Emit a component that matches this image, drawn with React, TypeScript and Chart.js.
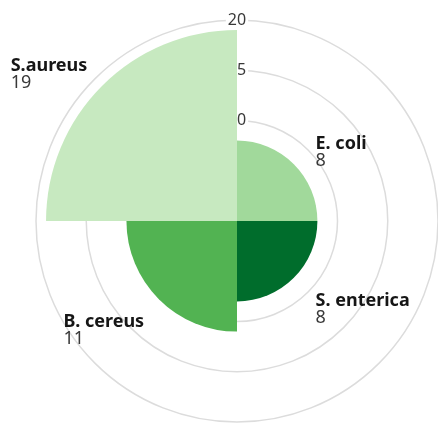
import React, { useEffect, useRef } from "react";
import { Chart, registerables } from "chart.js";

Chart.register(...registerables);

const categories = ["E. coli", "S. enterica", "B. cereus", "S.aureus"];
const values = [8, 8, 11, 19];
const colors = ["#a1d99b", "#006d2c", "#52b352", "#c7e9c0"];
const tickMin = 0;
const tickMax = 20;
const tickStep = 5;

const FONT = "'Noto Sans', sans-serif";

const labelPlugin = {
  id: "outerLabels",
  afterDatasetsDraw(chart: any) {
    const ctx = chart.ctx;
    const meta = chart.getDatasetMeta(0);
    meta.data.forEach((arc: any, i: number) => {
      const p = arc.getProps(["x", "y", "startAngle", "endAngle", "outerRadius"], true);
      const mid = (p.startAngle + p.endAngle) / 2;
      const cos = Math.cos(mid);
      const sin = Math.sin(mid);
      const r = p.outerRadius + 25;
      const ax = p.x + cos * r;
      const ay = p.y + sin * r;
      const name = String(chart.data.labels[i]);
      const val = String(chart.data.datasets[0].data[i]);
      ctx.save();
      ctx.textBaseline = "alphabetic";
      ctx.font = `bold 18px ${FONT}`;
      const w = ctx.measureText(name).width;
      let left: number;
      if (cos > 0) left = ax + 4;
      else left = ax + 3 - w;
      const top = sin < 0 ? ay - 10 : ay - 3;
      ctx.textAlign = "left";
      ctx.fillStyle = "#161616";
      ctx.fillText(name, left, top + 13);
      ctx.font = `18px ${FONT}`;
      ctx.fillStyle = "#393939";
      ctx.fillText(val, left, top + 30);
      ctx.restore();
    });
  },
};

export default function App() {
  const ref = useRef<HTMLCanvasElement | null>(null);
  useEffect(() => {
    if (!ref.current) return;
    const chart = new Chart(ref.current, {
      type: "polarArea",
      data: {
        labels: categories,
        datasets: [
          {
            data: values,
            backgroundColor: colors,
            borderWidth: 0,
          },
        ],
      },
      options: {
        animation: false,
        responsive: true,
        maintainAspectRatio: false,
        layout: { padding: { left: 24, right: 0, top: 10, bottom: 0 } },
        plugins: {
          legend: { display: false },
          tooltip: { enabled: false },
        },
        scales: {
          r: {
            min: tickMin,
            max: tickMax,
            angleLines: { display: false },
            grid: { color: "#dcdcdc", lineWidth: 1.5 },
            pointLabels: { display: false },
            ticks: {
              stepSize: tickStep,
              color: "#393939",
              font: { family: FONT, size: 16 },
              backdropColor: "#ffffff",
              backdropPadding: 2,
            },
          },
        },
      },
      plugins: [labelPlugin],
    });
    return () => chart.destroy();
  }, []);
  return (
    <div style={{ position: "absolute", left: 0, top: 0, width: 438, height: 423, overflow: "hidden" }}>
      <div style={{ position: "relative", width: 450, height: 433 }}>
        <canvas ref={ref} />
      </div>
    </div>
  );
}
